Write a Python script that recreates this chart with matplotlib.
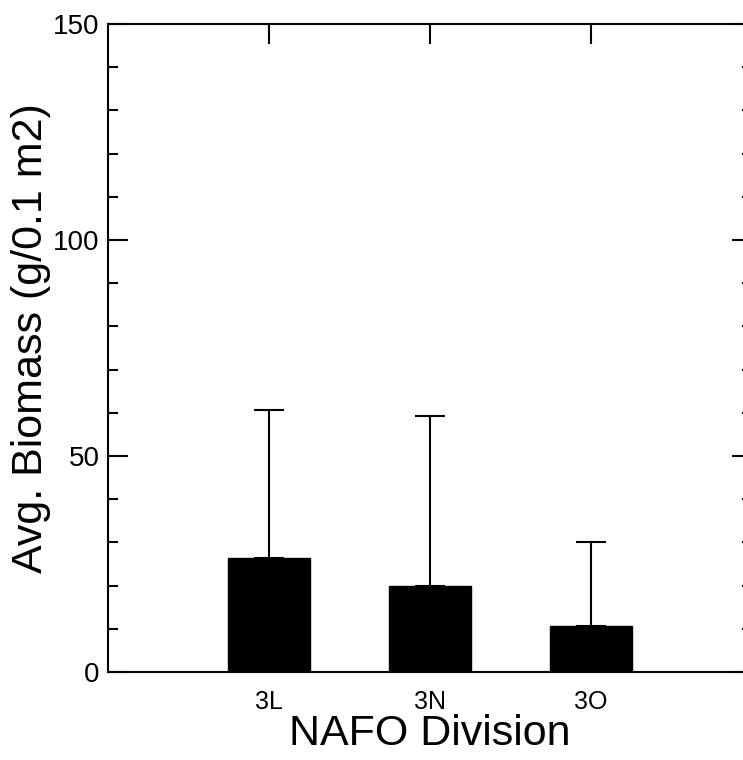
import numpy as np
import matplotlib
matplotlib.use("Agg")
import matplotlib.pyplot as plt
from matplotlib.ticker import MultipleLocator

# NAFO division averages, upper error bar only
divisions = ["3L", "3N", "3O"]
biomass = [26.5, 20.0, 10.7]
biomass_err = [34.1, 39.3, 19.5]

plt.rcParams['font.family'] = ['Liberation Sans', 'DejaVu Sans']

fig = plt.figure(figsize=(7.43, 7.60), dpi=100)
ax = fig.add_axes([108 / 743, 88 / 760, 644 / 743, 648 / 760])

x = np.arange(1, len(divisions) + 1)
ax.bar(x, biomass, width=0.51, color="black", edgecolor="black", zorder=2)
ax.errorbar(x, biomass, yerr=[np.zeros(len(x)), biomass_err], fmt="none",
            ecolor="black", elinewidth=1.5, capsize=11, capthick=1.5, zorder=1)

ax.set_xlim(0, 4)
ax.set_ylim(0, 150)
ax.set_xticks(x)
ax.set_xticklabels(divisions)
ax.yaxis.set_major_locator(MultipleLocator(50))
ax.yaxis.set_minor_locator(MultipleLocator(10))

for s in ax.spines.values():
    s.set_linewidth(1.5)

ax.tick_params(axis="x", which="both", direction="in", top=True, bottom=False,
               labelbottom=True, length=14.4, width=1.5, labelsize=18, pad=13)
ax.tick_params(axis="y", which="major", direction="in", left=True, right=True,
               length=14.4, width=1.5, labelsize=20, pad=6)
ax.tick_params(axis="y", which="minor", direction="in", left=True, right=True,
               length=7.2, width=1.5)

ax.set_xlabel("NAFO Division", fontsize=31, labelpad=0)
ax.set_ylabel("Avg. Biomass (g/0.1 m2)", fontsize=31)
ax.yaxis.set_label_coords(-0.088, 0.515)

fig.savefig("out.png", dpi=100)
